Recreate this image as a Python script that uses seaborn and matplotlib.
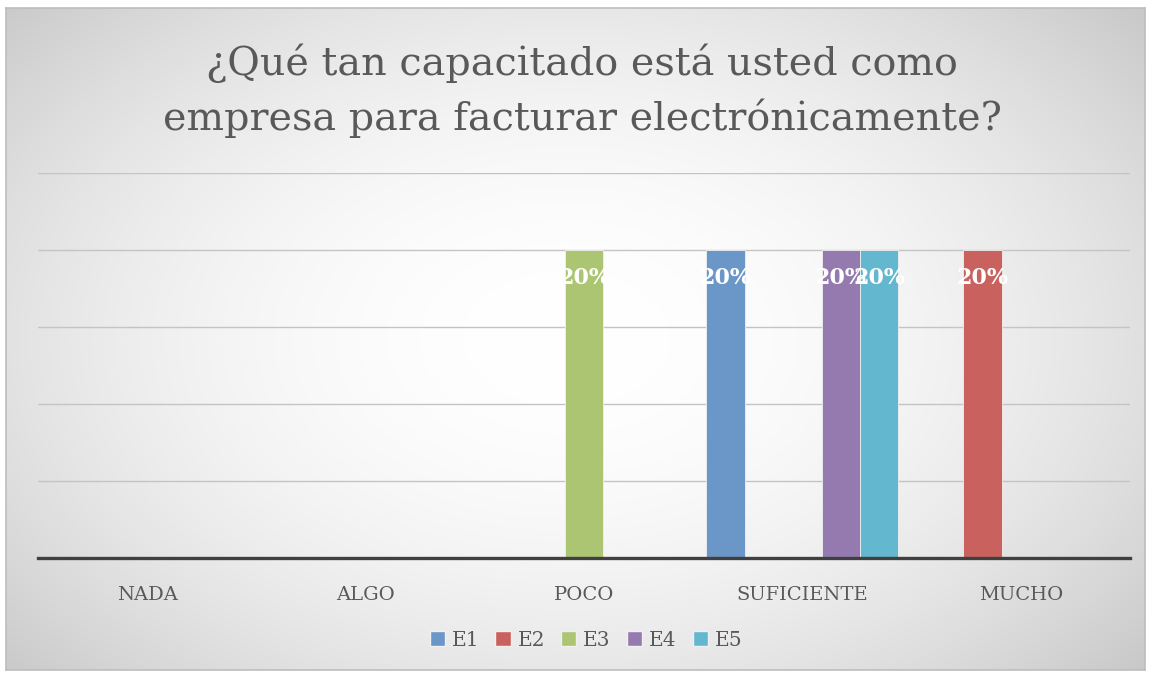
import numpy as np
import pandas as pd
import matplotlib.pyplot as plt
import seaborn as sns
from matplotlib.patches import Patch

categorias = ["NADA", "ALGO", "POCO", "SUFICIENTE", "MUCHO"]
series = ["E1", "E2", "E3", "E4", "E5"]
# share of each respondent (E1..E5) per category
E1 = [0, 0, 0, 0.20, 0]
E2 = [0, 0, 0, 0, 0.20]
E3 = [0, 0, 0.20, 0, 0]
E4 = [0, 0, 0, 0.20, 0]
E5 = [0, 0, 0, 0.20, 0]
colores = ["#6A96C8", "#C9625F", "#ABC572", "#957AB0", "#63B8CF"]

rows = []
for s, vals in zip(series, [E1, E2, E3, E4, E5]):
    for c, v in zip(categorias, vals):
        rows.append({"cat": c, "serie": s, "val": v})
df = pd.DataFrame(rows)

sns.set_style("white")
plt.rcParams["font.family"] = ["DejaVu Serif"]
gris = "#595959"

fig = plt.figure(figsize=(11.51, 6.74), dpi=100)

# background radial gradient
bg = fig.add_axes([6/1151, 4/674, 1139/1151, 662/674])
W, H = 1139, 662
xx, yy = np.meshgrid(np.arange(W), np.arange(H))
r2 = ((xx - 560) / 640.0) ** 2 + ((yy - 330) / 420.0) ** 2
g = 1 - 0.15 * np.clip(r2, 0, 1.45)
img = np.dstack([g, g, g])
bg.imshow(np.clip(img, 0, 1), aspect="auto", extent=[0, 1, 0, 1], zorder=0)
bg.set_xlim(0, 1); bg.set_ylim(0, 1)
bg.set_xticks([]); bg.set_yticks([])
for sp in bg.spines.values():
    sp.set_color("#bdbdbd"); sp.set_linewidth(1.2)

ax = fig.add_axes([38/1151, 1 - 558/674, 1092/1151, (558 - 173)/674])
ax.patch.set_alpha(0)
sns.barplot(data=df, x="cat", y="val", hue="serie", order=categorias,
            hue_order=series, palette=colores, saturation=1, width=0.88, ax=ax,
            edgecolor="#f0f0f0", linewidth=0.6, zorder=3)
ax.set_ylim(0, 0.25)
ax.set_xlim(-0.5, 4.5)
ax.set_yticks([0.05, 0.10, 0.15, 0.20, 0.25])
ax.yaxis.grid(True, color="#c4c4c4", linewidth=1, zorder=0)
ax.set_axisbelow(True)
ax.tick_params(axis="y", left=False, labelleft=False)
ax.tick_params(axis="x", bottom=False, pad=17, labelsize=14, labelcolor=gris)
for side in ["top", "right", "left"]:
    ax.spines[side].set_visible(False)
ax.spines["bottom"].set_color("#404040")
ax.spines["bottom"].set_linewidth(2.4)
ax.spines["bottom"].set_zorder(5)
ax.set_xlabel("")
ax.set_ylabel("")

for p in ax.patches:
    h = p.get_height()
    if h > 0:
        ax.text(p.get_x() + p.get_width() / 2, h - 0.018, f"{h:.0%}",
                ha="center", va="center", color="white", fontsize=16,
                fontweight="bold", zorder=6)

ax.get_legend().remove()
handles = [Patch(facecolor=c, edgecolor="#f0f0f0") for c in colores]
fig.legend(handles, series, loc="center", bbox_to_anchor=(586/1151, 1 - 640/674),
           ncol=5, frameon=False, fontsize=14.5, labelcolor=gris,
           handlelength=0.75, handleheight=0.75, handletextpad=0.35, columnspacing=0.8)

fig.text(582/1151, 1 - 91/674,
         "¿Qué tan capacitado está usted como\nempresa para facturar electrónicamente?",
         ha="center", va="center", fontsize=28.5, color=gris, linespacing=1.5)

plt.savefig("out.png", dpi=100)
